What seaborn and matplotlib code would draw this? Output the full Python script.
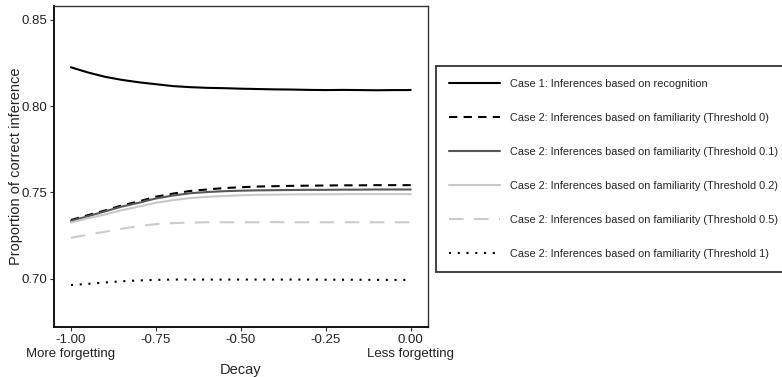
"""Proportion of correct inferences as a function of decay"""
import matplotlib
matplotlib.use('Agg')
import matplotlib.pyplot as plt
import seaborn as sns
import pandas as pd

decay = [-1.00, -0.95, -0.90, -0.85, -0.80, -0.75, -0.70, -0.65, -0.60, -0.55, -0.50,
         -0.45, -0.40, -0.35, -0.30, -0.25, -0.20, -0.15, -0.10, -0.05, 0.00]

case1 = [0.8225, 0.8195, 0.8170, 0.8152, 0.8138, 0.8127, 0.8116, 0.8110, 0.8106, 0.8104, 0.8101,
         0.8099, 0.8097, 0.8096, 0.8094, 0.8093, 0.8094, 0.8093, 0.8092, 0.8093, 0.8093]
thr_0 = [0.7340, 0.7368, 0.7395, 0.7425, 0.7448, 0.7475, 0.7493, 0.7508, 0.7517, 0.7525, 0.7530,
         0.7534, 0.7536, 0.7538, 0.7539, 0.7540, 0.7541, 0.7541, 0.7542, 0.7542, 0.7542]
thr_01 = [0.7335, 0.7362, 0.7390, 0.7418, 0.7440, 0.7465, 0.7482, 0.7495, 0.7502, 0.7507, 0.7510,
          0.7512, 0.7513, 0.7514, 0.7515, 0.7515, 0.7516, 0.7516, 0.7517, 0.7517, 0.7517]
thr_02 = [0.7325, 0.7350, 0.7372, 0.7397, 0.7418, 0.7440, 0.7455, 0.7467, 0.7474, 0.7479, 0.7483,
          0.7486, 0.7487, 0.7488, 0.7489, 0.7489, 0.7490, 0.7490, 0.7490, 0.7490, 0.7490]
thr_05 = [0.7237, 0.7255, 0.7272, 0.7290, 0.7305, 0.7316, 0.7322, 0.7325, 0.7327, 0.7327, 0.7327,
          0.7327, 0.7328, 0.7327, 0.7327, 0.7327, 0.7327, 0.7327, 0.7327, 0.7327, 0.7327]
thr_1 = [0.6963, 0.6970, 0.6978, 0.6985, 0.6990, 0.6993, 0.6995, 0.6995, 0.6995, 0.6995, 0.6995,
         0.6995, 0.6995, 0.6995, 0.6995, 0.6994, 0.6994, 0.6994, 0.6993, 0.6993, 0.6993]

labels = [
    'Case 1: Inferences based on recognition',
    'Case 2: Inferences based on familiarity (Threshold 0)',
    'Case 2: Inferences based on familiarity (Threshold 0.1)',
    'Case 2: Inferences based on familiarity (Threshold 0.2)',
    'Case 2: Inferences based on familiarity (Threshold 0.5)',
    'Case 2: Inferences based on familiarity (Threshold 1)',
]
series = [case1, thr_0, thr_01, thr_02, thr_05, thr_1]
colors = ['black', 'black', '#575757', '#c8c8c8', '#cccccc', 'black']
styles = ['-', (0, (4, 3)), '-', '-', (0, (7, 5)), (0, (1, 3.2))]

xticks = [-1.00, -0.75, -0.50, -0.25, 0.00]
xticklabels = ['-1.00\nMore forgetting', '-0.75', '-0.50', '-0.25', '0.00\nLess forgetting']
yticks = [0.70, 0.75, 0.80, 0.85]

sns.set_style('white')
plt.rcParams['font.family'] = ['Liberation Sans', 'DejaVu Sans']

fig = plt.figure(figsize=(7.82, 3.77), dpi=100)
ax = fig.add_axes([0.069, 0.1326, 0.478, 0.8514])

for vals, lab, col, ls in zip(series, labels, colors, styles):
    df = pd.DataFrame({'Decay': decay, 'p': vals})
    sns.lineplot(data=df, x='Decay', y='p', ax=ax, color=col, linestyle=ls,
                 linewidth=1.5, label=lab, legend=False)

ax.set_xlim(-1.05, 0.05)
ax.set_ylim(0.672, 0.858)
ax.set_xticks(xticks)
ax.set_xticklabels(xticklabels, fontsize=9.5, color='#222222')
ax.set_yticks(yticks)
ax.set_yticklabels([f'{v:.2f}' for v in yticks], fontsize=9.5, color='#222222')
ax.tick_params(axis='both', length=3, width=0.8, color='#333333', pad=2,
               bottom=True, left=True)
ax.set_xlabel('Decay', fontsize=10.5, labelpad=2)
ax.set_ylabel('Proportion of correct inference', fontsize=10.5, labelpad=-1)
for s in ax.spines.values():
    s.set_color('#333333')
    s.set_linewidth(1.0)
ax.spines['left'].set_color('black')
ax.spines['bottom'].set_color('black')
ax.spines['left'].set_linewidth(1.3)
ax.spines['bottom'].set_linewidth(1.3)

handles, labs = ax.get_legend_handles_labels()
leg = fig.legend(handles, labs, loc='upper left', bbox_to_anchor=(0.5575, 0.825),
                 fontsize=7.9, frameon=True, fancybox=False, handlelength=4.6,
                 handletextpad=0.95, labelspacing=2.18, borderpad=1.2,
                 borderaxespad=0)
leg.get_frame().set_edgecolor('black')
leg.get_frame().set_linewidth(1.3)

plt.savefig('out.png', dpi=100)
